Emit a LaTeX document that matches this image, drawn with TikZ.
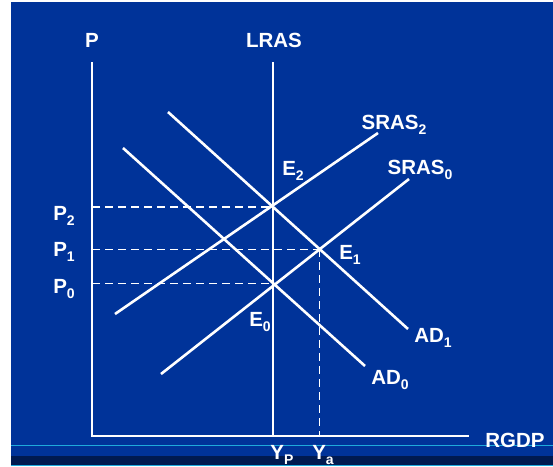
\documentclass[tikz,border=0pt]{standalone}
\usepackage{fontspec}
\setmainfont{Liberation Sans}
\usetikzlibrary{positioning}
\definecolor{slideblue}{RGB}{0,51,153}
\definecolor{slidenavy}{RGB}{0,26,80}
\definecolor{slidecyan}{RGB}{30,170,220}
\newcommand{\lowidx}[1]{\raisebox{-0.5ex}{\fontsize{14}{14}\selectfont #1}}

\begin{document}
\begin{tikzpicture}[
    x=1pt, y=-1pt,
    curve/.style={draw=white, line width=2.6pt},
    guide/.style={draw=white, line width=1.2pt, dash pattern=on 8pt off 5pt},
    lbl/.style={text=white, inner sep=1pt,
                font=\fontsize{20.5}{20.5}\selectfont\bfseries}
  ]
  \useasboundingbox (0,0) rectangle (553,466);
  % slide background
  \fill[slideblue] (11,2) rectangle (553,466);
  \fill[slidenavy] (11,456) rectangle (553,466);
  \draw[slidecyan, line width=1pt] (11,445) -- (553,445);
  \draw[slidecyan, line width=0.8pt] (11,465.6) -- (553,465.6);

  % axes
  \coordinate (ptop) at (92,62);
  \coordinate (origin) at (92,436);
  \coordinate (xend) at (469,436);
  \coordinate (lrastop) at (273,62);
  \coordinate (lrasbot) at (273,436);

  % demand and supply curves
  \coordinate (ad0a) at (123,148);
  \coordinate (ad0b) at (365,366);
  \coordinate (ad1a) at (168,112);
  \coordinate (ad1b) at (408,329);
  \coordinate (sras0a) at (161,374);
  \coordinate (sras0b) at (409,179);
  \coordinate (sras2a) at (115,314);
  \coordinate (sras2b) at (378,133);

  % equilibria
  \coordinate (E0) at (intersection of ad0a--ad0b and lrastop--lrasbot);
  \coordinate (E1) at (intersection of ad1a--ad1b and sras0a--sras0b);
  \coordinate (E2) at (intersection of ad1a--ad1b and lrastop--lrasbot);

  % dashed guides
  \draw[guide] (ptop |- E2) -- (E2);
  \draw[guide] (ptop |- E1) -- (E1);
  \draw[guide] (ptop |- E0) -- (E0);
  \draw[guide] (E1) -- (E1 |- origin);

  \draw[curve] (ptop) -- (origin) -- (xend);
  \draw[curve] (lrastop) -- (lrasbot);
  \draw[curve] (ad0a) -- (ad0b);
  \draw[curve] (ad1a) -- (ad1b);
  \draw[curve] (sras0a) -- (sras0b);
  \draw[curve] (sras2a) -- (sras2b);

  % labels
  \node[lbl] (plab) at (92,40) {P};
  \node[lbl] (lraslab) at (274,40) {LRAS};
  \node[lbl] (rgdplab) at (515,440) {RGDP};
  \node[lbl] (sras2lab) at (394,125) {SRAS\lowidx{2}};
  \node[lbl] (sras0lab) at (420,170) {SRAS\lowidx{0}};
  \node[lbl] (ad1lab) at (433,338) {AD\lowidx{1}};
  \node[lbl] (ad0lab) at (390,380) {AD\lowidx{0}};
  \node[lbl] (e2lab) at (293,171) {E\lowidx{2}};
  \node[lbl] (e1lab) at (350,255) {E\lowidx{1}};
  \node[lbl] (e0lab) at (260,322) {E\lowidx{0}};
  \node[lbl] (p2lab) at (64,216) {P\lowidx{2}};
  \node[lbl] (p1lab) at (64,252) {P\lowidx{1}};
  \node[lbl] (p0lab) at (64,289) {P\lowidx{0}};
  \node[lbl] (yplab) at (282,455) {Y\lowidx{P}};
  \node[lbl] (yalab) at (323,455) {Y\lowidx{a}};
\end{tikzpicture}
\end{document}
